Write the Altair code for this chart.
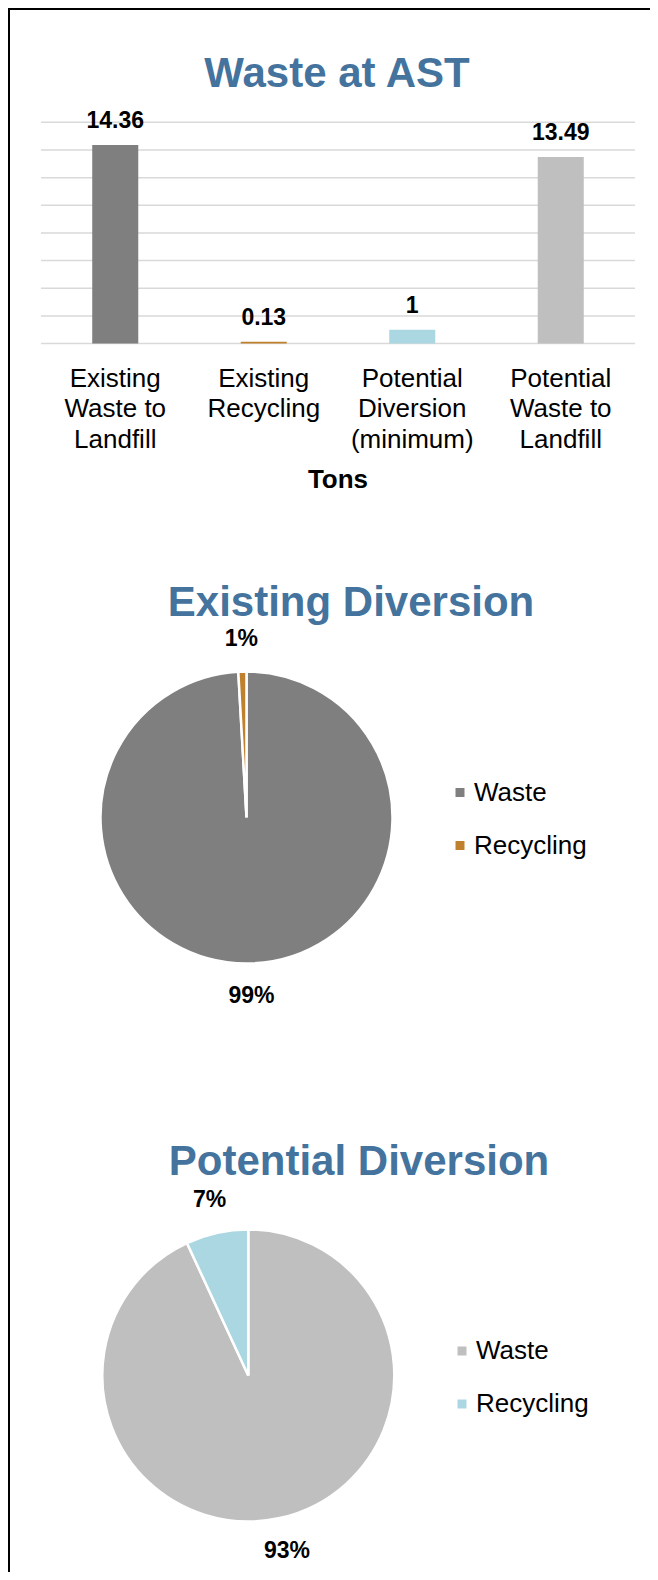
import altair as alt
import pandas as pd

# ---------------- data ----------------
categories = ["Existing Waste to Landfill", "Existing Recycling",
              "Potential Diversion (minimum)", "Potential Waste to Landfill"]
category_labels = ["Existing\nWaste to\nLandfill", "Existing\nRecycling",
                   "Potential\nDiversion\n(minimum)", "Potential\nWaste to\nLandfill"]
tons = [14.36, 0.13, 1, 13.49]
bar_colors = ["#7F7F7F", "#C0812F", "#AAD7E1", "#BFBFBF"]
grid_ticks = [0, 2, 4, 6, 8, 10, 12, 14, 16]

slice_names = ["Waste", "Recycling"]
existing_values = [14.36, 0.13]
potential_values = [13.49, 1]
existing_colors = ["#7F7F7F", "#C0812F"]
potential_colors = ["#BFBFBF", "#AAD7E1"]

titles = ["Waste at AST", "Existing Diversion", "Potential Diversion"]
axis_title = "Tons"

FONT = "Liberation Sans"
TITLE_COLOR = "#44739E"
W, H = 642, 1564

# ---------------- bar chart ----------------
bars_df = pd.DataFrame({"category": categories, "label": category_labels, "tons": tons})
grid_df = pd.DataFrame({"tick": grid_ticks})

x_scale = alt.Scale(domain=categories, range=[33, 627], paddingInner=0.69, paddingOuter=0.345)
y_scale = alt.Scale(domain=[0, 16], range=[335.6, 114.3], nice=False, zero=True)

grid = alt.Chart(grid_df).mark_rule(color="#D9D9D9", strokeWidth=1.5).encode(
    y=alt.Y("tick:Q", scale=y_scale, axis=None),
    x=alt.value(33), x2=alt.value(627),
)

bars = alt.Chart(bars_df).mark_bar().encode(
    x=alt.X("category:N", scale=x_scale, axis=None, sort=categories),
    y=alt.Y("tons:Q", scale=y_scale, axis=None),
    color=alt.Color("category:N", scale=alt.Scale(domain=categories, range=bar_colors), legend=None),
)

value_labels = alt.Chart(bars_df).mark_text(
    font=FONT, fontSize=23, fontWeight="bold", baseline="alphabetic", dy=-17, color="black"
).encode(
    x=alt.X("category:N", scale=x_scale, axis=None, sort=categories),
    y=alt.Y("tons:Q", scale=y_scale, axis=None),
    text=alt.Text("tons:N"),
)

cat_labels = alt.Chart(bars_df).mark_text(
    font=FONT, fontSize=26, baseline="top", lineBreak="\n", lineHeight=30.5, color="black"
).encode(
    x=alt.X("category:N", scale=x_scale, axis=None, sort=categories),
    y=alt.value(357.5),
    text=alt.Text("label:N"),
)

tons_title = alt.Chart(pd.DataFrame({"t": [axis_title]})).mark_text(
    font=FONT, fontSize=26, fontWeight="bold", baseline="alphabetic", color="black"
).encode(x=alt.value(330), y=alt.value(479.5), text="t:N")

bar_block = alt.layer(grid, bars, value_labels, cat_labels, tons_title)


# ---------------- pies ----------------
def pie(values, colors, cx, cy, r, label_r, legend_x, legend_y):
    df = pd.DataFrame({"slice": slice_names, "value": values, "idx": [0, 1]})
    base = alt.Chart(df).transform_joinaggregate(
        total="sum(value)"
    ).transform_calculate(
        pct="datum.value / datum.total"
    ).encode(
        theta=alt.Theta("value:Q", stack=True),
        order=alt.Order("idx:Q"),
        x=alt.value(cx), y=alt.value(cy),
    )
    arcs = base.mark_arc(radius=r, stroke="white", strokeWidth=2.5).encode(
        color=alt.Color(
            "slice:N",
            scale=alt.Scale(domain=slice_names, range=colors),
            sort=slice_names,
            legend=alt.Legend(
                orient="none", legendX=legend_x, legendY=legend_y, title=None,
                symbolType="square", symbolSize=81, symbolStrokeWidth=0,
                labelFontSize=26, labelFont=FONT, labelColor="black",
                rowPadding=27, labelOffset=1, padding=0,
            ),
        )
    )
    labels = base.mark_text(
        radius=label_r, font=FONT, fontSize=23, fontWeight="bold", color="black"
    ).encode(text=alt.Text("pct:Q", format=".0%"))
    return alt.layer(arcs, labels)


pie1 = pie(existing_values, existing_colors, 238.5, 809.5, 146, 179, 439, 771.5)
pie2 = pie(potential_values, potential_colors, 240.3, 1367.5, 146, 180, 441, 1330)

# ---------------- titles & frame ----------------
def title_text(txt, x, y):
    return alt.Chart(pd.DataFrame({"t": [txt]})).mark_text(
        font=FONT, fontSize=42, fontWeight="bold", baseline="alphabetic", color=TITLE_COLOR
    ).encode(x=alt.value(x), y=alt.value(y), text="t:N")


t1 = title_text(titles[0], 329, 79.3)
t2 = title_text(titles[1], 343, 608)
t3 = title_text(titles[2], 351, 1167)

frame_df = pd.DataFrame({"k": [0]})
left_border = alt.Chart(frame_df).mark_rule(color="black", strokeWidth=2).encode(
    x=alt.value(1), y=alt.value(0), y2=alt.value(H)
)
top_border = alt.Chart(frame_df).mark_rule(color="black", strokeWidth=2).encode(
    x=alt.value(0), x2=alt.value(W), y=alt.value(1)
)

chart = alt.layer(
    bar_block, pie1, pie2, t1, t2, t3, left_border, top_border
).resolve_scale(
    x="independent", y="independent", color="independent", theta="independent"
).properties(
    width=W, height=H, autosize="none", padding=0
).configure_view(stroke="transparent", strokeWidth=0)

chart.save("out.html", embed_options={"renderer": "svg", "actions": False})
